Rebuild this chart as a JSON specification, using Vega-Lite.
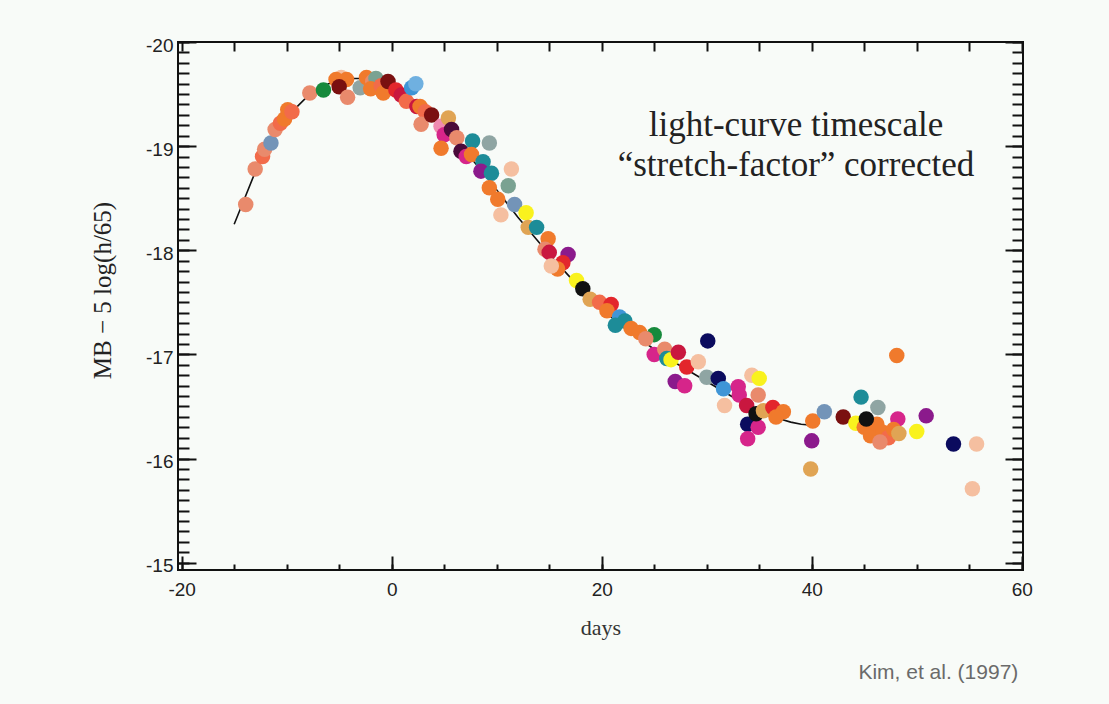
{
  "$schema": "https://vega.github.io/schema/vega-lite/v6.json",
  "width": 845,
  "height": 528,
  "autosize": {"type": "none"},
  "padding": {"left": 178, "top": 42, "right": 86, "bottom": 134},
  "background": "#f8fbf8",
  "view": {"stroke": "#111111", "strokeWidth": 2, "fill": null},
  "config": {"axis": {"grid": false}},
  "title": {"text": "Kim, et al. (1997)", "orient": "bottom", "anchor": "end", "font": "Liberation Sans", "fontSize": 21, "fontWeight": "normal", "color": "#6a6a6a", "offset": 24, "dx": -14},
  "datasets": {
    "curve": [
      {"d": -15, "m": -18.25}, {"d": -14, "m": -18.5}, {"d": -13, "m": -18.75}, {"d": -12, "m": -18.95},
      {"d": -11, "m": -19.12}, {"d": -10, "m": -19.27}, {"d": -9, "m": -19.38}, {"d": -8, "m": -19.48},
      {"d": -7, "m": -19.55}, {"d": -6, "m": -19.6}, {"d": -5, "m": -19.63}, {"d": -4, "m": -19.65},
      {"d": -3, "m": -19.65}, {"d": -2, "m": -19.64}, {"d": -1, "m": -19.61}, {"d": 0, "m": -19.57},
      {"d": 1, "m": -19.52}, {"d": 2, "m": -19.45}, {"d": 3, "m": -19.37}, {"d": 4, "m": -19.27},
      {"d": 5, "m": -19.17}, {"d": 6, "m": -19.06}, {"d": 7, "m": -18.95}, {"d": 8, "m": -18.83},
      {"d": 9, "m": -18.71}, {"d": 10, "m": -18.58}, {"d": 11, "m": -18.45}, {"d": 12, "m": -18.32},
      {"d": 13, "m": -18.2}, {"d": 14, "m": -18.08}, {"d": 15, "m": -17.96}, {"d": 16, "m": -17.85},
      {"d": 17, "m": -17.74}, {"d": 18, "m": -17.63}, {"d": 19, "m": -17.53}, {"d": 20, "m": -17.44},
      {"d": 21, "m": -17.35}, {"d": 22, "m": -17.27}, {"d": 23, "m": -17.19}, {"d": 24, "m": -17.12},
      {"d": 25, "m": -17.05}, {"d": 26, "m": -16.98}, {"d": 27, "m": -16.92}, {"d": 28, "m": -16.86},
      {"d": 29, "m": -16.8}, {"d": 30, "m": -16.74}, {"d": 31, "m": -16.68}, {"d": 32, "m": -16.62},
      {"d": 33, "m": -16.56}, {"d": 34, "m": -16.5}, {"d": 35, "m": -16.45}, {"d": 36, "m": -16.41},
      {"d": 37, "m": -16.38}, {"d": 38, "m": -16.35}, {"d": 39, "m": -16.33}, {"d": 40, "m": -16.32}
    ],
    "obs": [
      {"d": -13.9, "m": -18.44, "c": "salmon"}, {"d": -13.0, "m": -18.78, "c": "salmon"},
      {"d": -12.3, "m": -18.9, "c": "coral"}, {"d": -12.1, "m": -18.97, "c": "salmon"},
      {"d": -11.5, "m": -19.03, "c": "bluegray"}, {"d": -11.1, "m": -19.16, "c": "salmon"},
      {"d": -10.6, "m": -19.22, "c": "coral"}, {"d": -10.2, "m": -19.26, "c": "orange"},
      {"d": -9.9, "m": -19.35, "c": "orange"}, {"d": -9.5, "m": -19.33, "c": "coral"},
      {"d": -7.8, "m": -19.51, "c": "salmon"}, {"d": -6.5, "m": -19.54, "c": "green"},
      {"d": -4.8, "m": -19.66, "c": "peach"}, {"d": -5.3, "m": -19.64, "c": "orange"},
      {"d": -4.3, "m": -19.64, "c": "orange"}, {"d": -5.0, "m": -19.57, "c": "darkred"},
      {"d": -4.2, "m": -19.47, "c": "salmon"}, {"d": -3.0, "m": -19.56, "c": "gray"},
      {"d": -2.4, "m": -19.66, "c": "orange"}, {"d": -1.8, "m": -19.62, "c": "salmon"},
      {"d": -1.5, "m": -19.65, "c": "graygreen"}, {"d": -2.0, "m": -19.55, "c": "orange"},
      {"d": -1.0, "m": -19.58, "c": "coral"}, {"d": -0.8, "m": -19.51, "c": "orange"},
      {"d": -0.35, "m": -19.62, "c": "darkred"}, {"d": 0.4, "m": -19.54, "c": "red"},
      {"d": 0.9, "m": -19.49, "c": "crimson"}, {"d": 1.4, "m": -19.43, "c": "coral"},
      {"d": 1.9, "m": -19.56, "c": "blue"}, {"d": 2.3, "m": -19.6, "c": "lightblue"},
      {"d": 2.4, "m": -19.38, "c": "crimson"}, {"d": 2.7, "m": -19.38, "c": "orange"},
      {"d": 3.2, "m": -19.33, "c": "coral"}, {"d": 2.8, "m": -19.21, "c": "salmon"},
      {"d": 3.8, "m": -19.3, "c": "darkred"}, {"d": 4.7, "m": -19.19, "c": "pink"},
      {"d": 5.4, "m": -19.27, "c": "tan"}, {"d": 5.0, "m": -19.11, "c": "magenta"},
      {"d": 4.7, "m": -18.98, "c": "orange"}, {"d": 5.7, "m": -19.16, "c": "darkpurple"},
      {"d": 6.2, "m": -19.08, "c": "salmon"}, {"d": 7.7, "m": -19.05, "c": "teal"},
      {"d": 9.3, "m": -19.03, "c": "gray"}, {"d": 6.6, "m": -18.95, "c": "darkpurple"},
      {"d": 7.1, "m": -18.9, "c": "magenta"}, {"d": 7.6, "m": -18.92, "c": "orange"},
      {"d": 8.7, "m": -18.85, "c": "teal"}, {"d": 8.5, "m": -18.76, "c": "purple"},
      {"d": 9.5, "m": -18.74, "c": "teal"}, {"d": 11.4, "m": -18.78, "c": "peach"},
      {"d": 9.3, "m": -18.6, "c": "orange"}, {"d": 11.1, "m": -18.62, "c": "graygreen"},
      {"d": 10.1, "m": -18.49, "c": "orange"}, {"d": 11.7, "m": -18.44, "c": "bluegray"},
      {"d": 10.4, "m": -18.34, "c": "peach"}, {"d": 12.8, "m": -18.36, "c": "yellow"},
      {"d": 13.0, "m": -18.22, "c": "tan"}, {"d": 13.8, "m": -18.22, "c": "teal"},
      {"d": 14.9, "m": -18.11, "c": "orange"}, {"d": 14.6, "m": -18.01, "c": "salmon"},
      {"d": 15.0, "m": -17.98, "c": "crimson"}, {"d": 16.8, "m": -17.96, "c": "purple"},
      {"d": 16.3, "m": -17.88, "c": "red"}, {"d": 15.8, "m": -17.82, "c": "orange"},
      {"d": 15.2, "m": -17.85, "c": "peach"}, {"d": 17.6, "m": -17.71, "c": "yellow"},
      {"d": 18.2, "m": -17.63, "c": "black"}, {"d": 18.9, "m": -17.53, "c": "tan"},
      {"d": 19.8, "m": -17.5, "c": "coral"}, {"d": 20.9, "m": -17.48, "c": "red"},
      {"d": 20.5, "m": -17.42, "c": "orange"}, {"d": 21.7, "m": -17.36, "c": "blue"},
      {"d": 22.2, "m": -17.32, "c": "teal"}, {"d": 21.3, "m": -17.28, "c": "teal"},
      {"d": 22.8, "m": -17.25, "c": "orange"}, {"d": 23.6, "m": -17.21, "c": "orange"},
      {"d": 25.0, "m": -17.19, "c": "green"}, {"d": 24.2, "m": -17.15, "c": "salmon"},
      {"d": 25.0, "m": -17.0, "c": "magenta"}, {"d": 26.0, "m": -17.05, "c": "salmon"},
      {"d": 26.2, "m": -16.96, "c": "teal"}, {"d": 26.6, "m": -16.95, "c": "yellow"},
      {"d": 27.3, "m": -17.02, "c": "crimson"}, {"d": 28.1, "m": -16.88, "c": "red"},
      {"d": 29.2, "m": -16.93, "c": "peach"}, {"d": 27.0, "m": -16.74, "c": "purple"},
      {"d": 27.9, "m": -16.7, "c": "magenta"}, {"d": 30.0, "m": -16.78, "c": "gray"},
      {"d": 30.1, "m": -17.13, "c": "navy"}, {"d": 31.1, "m": -16.77, "c": "navy"},
      {"d": 31.6, "m": -16.67, "c": "blue"}, {"d": 31.7, "m": -16.51, "c": "peach"},
      {"d": 33.0, "m": -16.69, "c": "magenta"}, {"d": 33.1, "m": -16.61, "c": "magenta"},
      {"d": 33.8, "m": -16.51, "c": "crimson"}, {"d": 34.3, "m": -16.8, "c": "peach"},
      {"d": 35.0, "m": -16.77, "c": "yellow"}, {"d": 34.9, "m": -16.61, "c": "salmon"},
      {"d": 33.9, "m": -16.33, "c": "navy"}, {"d": 34.9, "m": -16.3, "c": "magenta"},
      {"d": 33.9, "m": -16.19, "c": "magenta"}, {"d": 34.7, "m": -16.43, "c": "black"},
      {"d": 35.4, "m": -16.46, "c": "tan"}, {"d": 36.3, "m": -16.49, "c": "red"},
      {"d": 37.3, "m": -16.45, "c": "orange"}, {"d": 36.6, "m": -16.4, "c": "orange"},
      {"d": 40.1, "m": -16.36, "c": "orange"}, {"d": 41.2, "m": -16.45, "c": "bluegray"},
      {"d": 40.0, "m": -16.17, "c": "purple"}, {"d": 39.9, "m": -15.9, "c": "tan"},
      {"d": 43.0, "m": -16.4, "c": "darkred"}, {"d": 44.2, "m": -16.34, "c": "yellow"},
      {"d": 44.7, "m": -16.59, "c": "teal"}, {"d": 46.3, "m": -16.49, "c": "gray"},
      {"d": 48.2, "m": -16.38, "c": "magenta"}, {"d": 50.9, "m": -16.41, "c": "purple"},
      {"d": 50.0, "m": -16.26, "c": "yellow"}, {"d": 48.1, "m": -16.99, "c": "orange"},
      {"d": 45.0, "m": -16.3, "c": "orange"}, {"d": 45.6, "m": -16.22, "c": "orange"},
      {"d": 46.2, "m": -16.33, "c": "orange"}, {"d": 46.8, "m": -16.25, "c": "orange"},
      {"d": 47.3, "m": -16.2, "c": "coral"}, {"d": 47.8, "m": -16.28, "c": "orange"},
      {"d": 46.5, "m": -16.16, "c": "salmon"}, {"d": 48.3, "m": -16.24, "c": "tan"},
      {"d": 45.2, "m": -16.38, "c": "black"}, {"d": 53.5, "m": -16.14, "c": "navy"},
      {"d": 55.7, "m": -16.14, "c": "peach"}, {"d": 55.3, "m": -15.71, "c": "peach"}
    ]
  },
  "resolve": {"axis": {"x": "independent", "y": "independent"}},
  "layer": [
    {
      "data": {"name": "curve"},
      "mark": {"type": "line", "color": "#111111", "strokeWidth": 1.6},
      "encoding": {
        "x": {"field": "d", "type": "quantitative",
              "scale": {"domain": [-20.35, 60.12], "nice": false, "zero": false},
              "axis": {"orient": "bottom", "values": [-20, 0, 20, 40, 60], "ticks": false, "domain": false,
                       "labelExpr": "'' + datum.value", "labelFlush": false, "labelOverlap": false,
                       "labelPadding": 10, "labelFont": "Liberation Sans", "labelFontSize": 19, "labelColor": "#222222",
                       "title": "days", "titleFont": "Liberation Serif", "titleFontSize": 22, "titleFontWeight": "normal",
                       "titleColor": "#333333", "titlePadding": 18}},
        "y": {"field": "m", "type": "quantitative",
              "scale": {"domain": [-20, -14.93], "reverse": true, "nice": false, "zero": false},
              "axis": {"orient": "left", "values": [-20, -19, -18, -17, -16, -15], "ticks": false, "domain": false,
                       "labelExpr": "'' + datum.value", "labelFlush": false, "labelOverlap": false,
                       "labelPadding": 5, "labelOffset": 3, "labelFont": "Liberation Sans", "labelFontSize": 19, "labelColor": "#222222",
                       "title": "MB − 5 log(h/65)", "titleFont": "Liberation Serif", "titleFontSize": 25, "titleFontWeight": "normal",
                       "titleColor": "#222222", "titlePadding": 30, "titleY": 248}}
      }
    },
    {
      "data": {"name": "obs"},
      "mark": {"type": "circle", "size": 240, "opacity": 1},
      "encoding": {
        "x": {"field": "d", "type": "quantitative",
              "scale": {"domain": [-20.35, 60.12], "nice": false, "zero": false},
              "axis": {"orient": "top", "offset": -528, "values": [-20, 0, 20, 40, 60], "tickSize": 14, "tickWidth": 2,
                       "tickColor": "#111111", "labels": false, "domain": false, "title": null}},
        "y": {"field": "m", "type": "quantitative",
              "scale": {"domain": [-20, -14.93], "reverse": true, "nice": false, "zero": false},
              "axis": {"orient": "right", "offset": -845, "values": [-20, -19, -18, -17, -16, -15], "tickSize": 18, "tickWidth": 2,
                       "tickColor": "#111111", "labels": false, "domain": false, "title": null}},
        "color": {"field": "c", "type": "nominal", "legend": null,
                  "scale": {"domain": ["orange", "coral", "salmon", "peach", "tan", "red", "crimson", "magenta", "purple", "darkpurple", "navy", "teal", "green", "yellow", "gray", "bluegray", "blue", "lightblue", "black", "darkred", "graygreen", "pink"],
                            "range": ["#f07a2c", "#f26b4a", "#e98a6c", "#f5bfa0", "#e0a454", "#e3262c", "#c9173f", "#d6258a", "#8b1a8c", "#4a0a3a", "#0b0b5e", "#1d8c98", "#178a3c", "#f9f21e", "#8fa5a3", "#7394b8", "#3f95d6", "#6fb0e0", "#111111", "#7a1010", "#7aa292", "#f08ab0"]}}
      }
    },
    {
      "data": {"name": "curve"},
      "mark": {"type": "point", "opacity": 0},
      "encoding": {
        "x": {"field": "d", "type": "quantitative",
              "scale": {"domain": [-20.35, 60.12], "nice": false, "zero": false},
              "axis": {"orient": "top", "offset": -528, "values": [-20, -15, -10, -5, 0, 5, 10, 15, 20, 25, 30, 35, 40, 45, 50, 55, 60],
                       "tickSize": 6, "tickWidth": 2, "tickColor": "#111111", "labels": false, "domain": false, "title": null}},
        "y": {"field": "m", "type": "quantitative",
              "scale": {"domain": [-20, -14.93], "reverse": true, "nice": false, "zero": false},
              "axis": {"orient": "right", "offset": -845,
                       "values": [-20, -19.9, -19.8, -19.7, -19.6, -19.5, -19.4, -19.3, -19.2, -19.1, -19, -18.9, -18.8, -18.7, -18.6, -18.5, -18.4, -18.3, -18.2, -18.1, -18, -17.9, -17.8, -17.7, -17.6, -17.5, -17.4, -17.3, -17.2, -17.1, -17, -16.9, -16.8, -16.7, -16.6, -16.5, -16.4, -16.3, -16.2, -16.1, -16, -15.9, -15.8, -15.7, -15.6, -15.5, -15.4, -15.3, -15.2, -15.1, -15],
                       "tickSize": 11, "tickWidth": 2, "tickColor": "#111111", "labels": false, "domain": false, "title": null}}
      }
    },
    {
      "data": {"name": "curve"},
      "mark": {"type": "point", "opacity": 0},
      "encoding": {
        "x": {"field": "d", "type": "quantitative",
              "scale": {"domain": [-20.35, 60.12], "nice": false, "zero": false},
              "axis": {"orient": "bottom", "offset": -528, "values": [-20, -15, -10, -5, 0, 5, 10, 15, 20, 25, 30, 35, 40, 45, 50, 55, 60],
                       "tickSize": 9, "tickWidth": 2, "tickColor": "#111111", "labels": false, "domain": false, "title": null}},
        "y": {"field": "m", "type": "quantitative",
              "scale": {"domain": [-20, -14.93], "reverse": true, "nice": false, "zero": false},
              "axis": {"orient": "left", "offset": -845,
                       "values": [-20, -19.9, -19.8, -19.7, -19.6, -19.5, -19.4, -19.3, -19.2, -19.1, -19, -18.9, -18.8, -18.7, -18.6, -18.5, -18.4, -18.3, -18.2, -18.1, -18, -17.9, -17.8, -17.7, -17.6, -17.5, -17.4, -17.3, -17.2, -17.1, -17, -16.9, -16.8, -16.7, -16.6, -16.5, -16.4, -16.3, -16.2, -16.1, -16, -15.9, -15.8, -15.7, -15.6, -15.5, -15.4, -15.3, -15.2, -15.1, -15],
                       "tickSize": 11, "tickWidth": 2, "tickColor": "#111111", "labels": false, "domain": false, "title": null}}
      }
    },
    {
      "data": {"name": "curve"},
      "mark": {"type": "point", "opacity": 0},
      "encoding": {
        "x": {"field": "d", "type": "quantitative",
              "scale": {"domain": [-20.35, 60.12], "nice": false, "zero": false}, "axis": null},
        "y": {"field": "m", "type": "quantitative",
              "scale": {"domain": [-20, -14.93], "reverse": true, "nice": false, "zero": false},
              "axis": {"orient": "left", "offset": -845, "values": [-20, -19, -18, -17, -16, -15],
                       "tickSize": 18, "tickWidth": 2, "tickColor": "#111111", "labels": false, "domain": false, "title": null}}
      }
    },
    {
      "data": {"values": [{}]},
      "mark": {"type": "text", "text": ["light-curve timescale", "“stretch-factor” corrected"],
               "font": "Liberation Serif", "fontSize": 35, "color": "#222222", "align": "center", "baseline": "middle", "lineHeight": 40},
      "encoding": {
        "x": {"datum": 38.5, "type": "quantitative", "scale": {"domain": [-20.35, 60.12], "nice": false, "zero": false}, "axis": null},
        "y": {"datum": -19.2, "type": "quantitative", "scale": {"domain": [-20, -14.93], "reverse": true, "nice": false, "zero": false}, "axis": null}
      }
    }
  ]
}
